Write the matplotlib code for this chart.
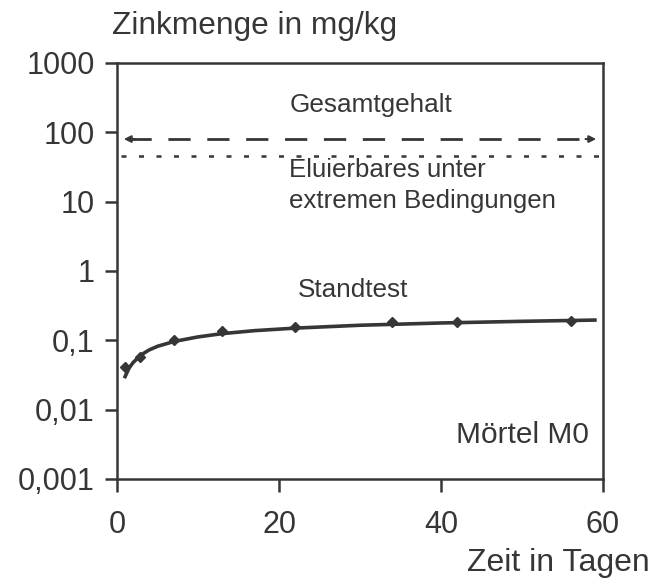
import numpy as np
import matplotlib.pyplot as plt

plt.rcParams['font.family'] = ['Liberation Sans', 'DejaVu Sans']

# Messwerte Standtest (Tage, mg/kg)
tage = [1, 2.8, 7, 13, 22, 34, 42, 56]
zink = [0.041, 0.058, 0.10, 0.135, 0.155, 0.185, 0.185, 0.19]

kurve_t = [1.0, 1.5, 2.0, 3.0, 4.0, 5.0, 7.0, 10.0, 13.0, 17.0, 22.0, 30.0, 40.0, 50.0, 59.0]
kurve_z = [0.030, 0.040, 0.048, 0.062, 0.073, 0.082, 0.096, 0.112, 0.125, 0.138, 0.150, 0.165, 0.178, 0.188, 0.196]

gesamtgehalt = 80
eluierbar = 45

yticks = [0.001, 0.01, 0.1, 1, 10, 100, 1000]
ylabels = ['0,001', '0,01', '0,1', '1', '10', '100', '1000']
xticks = [0, 20, 40, 60]

grau = '#363636'

fig = plt.figure(figsize=(6.55, 5.85), dpi=100)
ax = fig.add_axes([117/655, 1 - 479/585, 486/655, 416/585])

ax.plot(kurve_t, kurve_z, color=grau, lw=2.6)
ax.plot(tage, zink, 'D', color=grau, ms=5)

ax.plot([1.5, 58.5], [gesamtgehalt, gesamtgehalt], color=grau, lw=2, dashes=(8, 6))
ax.annotate('', xy=(0.5, gesamtgehalt), xytext=(2.5, gesamtgehalt),
            arrowprops=dict(arrowstyle='-|>', color=grau, lw=1.5, mutation_scale=10))
ax.annotate('', xy=(59.5, gesamtgehalt), xytext=(57.5, gesamtgehalt),
            arrowprops=dict(arrowstyle='-|>', color=grau, lw=1.5, mutation_scale=10))
ax.plot([0.5, 59.5], [eluierbar, eluierbar], color=grau, lw=1.8, dashes=(2, 5))

ax.set_yscale('log')
ax.set_ylim(0.001, 1000)
ax.set_xlim(0, 60)
ax.set_yticks(yticks)
ax.set_yticklabels(ylabels)
ax.set_xticks(xticks)
ax.minorticks_off()
ax.tick_params(labelsize=22, colors=grau, width=1.8, length=9, pad=7)
ax.tick_params(axis='x', pad=13)
for s in ax.spines.values():
    s.set_color(grau)
    s.set_linewidth(1.8)

ax.text(31.4, 250, 'Gesamtgehalt', fontsize=18.8, color=grau, ha='center', va='center')
ax.text(21.2, 17, 'Eluierbares unter\nextremen Bedingungen', fontsize=18.6, color=grau,
        ha='left', va='center', linespacing=1.35)
ax.text(29.2, 0.53, 'Standtest', fontsize=18.8, color=grau, ha='center', va='center')
ax.text(58.2, 0.0043, 'Mörtel M0', fontsize=21.5, color=grau, ha='right', va='center')

fig.text(112/655, 1 - 26/585, 'Zinkmenge in mg/kg', fontsize=22.8, color=grau, ha='left', va='center')
fig.text(650/655, 1 - 563/585, 'Zeit in Tagen', fontsize=23, color=grau, ha='right', va='center')

fig.savefig('out.png', dpi=100)
